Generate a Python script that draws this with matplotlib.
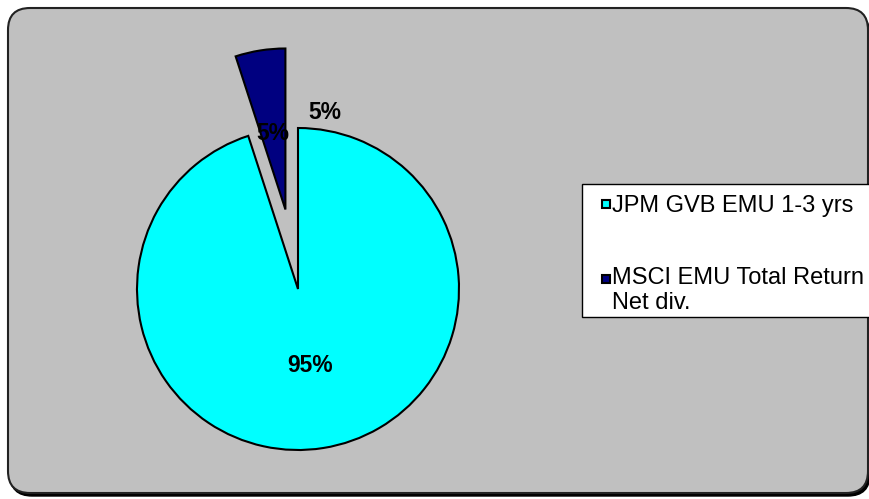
import matplotlib.pyplot as plt
from matplotlib.patches import FancyBboxPatch, Rectangle
from matplotlib.legend_handler import HandlerPatch

labels = ["JPM GVB EMU 1-3 yrs", "MSCI EMU Total Return\nNet div."]
values = [95, 5]
colors = ["#00FFFF", "#000080"]

plt.rcParams['font.family'] = ['Liberation Sans', 'DejaVu Sans']

fig = plt.figure(figsize=(8.7, 4.99), dpi=100)
fig.patch.set_facecolor("white")

# pixel-like coordinates, y up
ax = fig.add_axes([0, 0, 1, 1])
ax.set_xlim(0, 870)
ax.set_ylim(0, 499)
ax.set_aspect("equal")
ax.axis("off")

# grey rounded plot area with a small shadow
shadow = FancyBboxPatch((10, 3), 860, 483, boxstyle="round,pad=0,rounding_size=22",
                        fc="black", ec="black", lw=1, zorder=0)
panel = FancyBboxPatch((8, 6), 860, 485, boxstyle="round,pad=0,rounding_size=22",
                       fc="#C0C0C0", ec="#222222", lw=1.5, zorder=1)
ax.add_patch(shadow)
ax.add_patch(panel)

cx, cy, r = 298, 210, 161
# explode in pie() is in data units, so scale by radius
wedges, texts, autotexts = ax.pie(
    values, colors=colors, startangle=90, counterclock=False,
    explode=[0, 0.5 * r], center=(cx, cy), radius=r, frame=True,
    autopct="%d%%", pctdistance=0.48,
    wedgeprops=dict(edgecolor="black", linewidth=1.5),
    textprops=dict(fontsize=16.5, fontweight="bold", color="black"))
for w in wedges:
    w.set_zorder(2)
for t in autotexts:
    t.set_zorder(3)
ax.set_xlim(0, 870)
ax.set_ylim(0, 499)
ax.axis("off")

# second label for the small slice, outside the wedge
ax.text(cx + 27, cy + 177, f"{values[1]}%", fontsize=16.5, fontweight="bold",
        ha="center", va="center", zorder=3)


# small square marker at the right of the handle box, lined up with the first text line
def square(shift):
    def make(legend, orig_handle, xdescent, ydescent, width, height, fontsize):
        s = 5.5
        return Rectangle((-xdescent + width - s, -ydescent + (height - s) / 2 + shift), s, s)
    return make


handler_map = {wedges[0]: HandlerPatch(patch_func=square(0)),
               wedges[1]: HandlerPatch(patch_func=square(8.5))}

# legend box drawn by hand: Excel leaves less room under the last line
ax.add_patch(Rectangle((582, 499 - 317), 290, 133, fc="white", ec="black", lw=1.0, zorder=4))

leg = ax.legend(wedges, labels, loc="upper left", bbox_to_anchor=(582 / 870, 1 - 186 / 499),
                fontsize=17, frameon=False, handlelength=0.79, handleheight=0.7,
                handletextpad=0.09, labelspacing=2.1, borderpad=0.4, borderaxespad=0,
                handler_map=handler_map)
leg.set_zorder(5)

fig.savefig("out.png", dpi=100)
